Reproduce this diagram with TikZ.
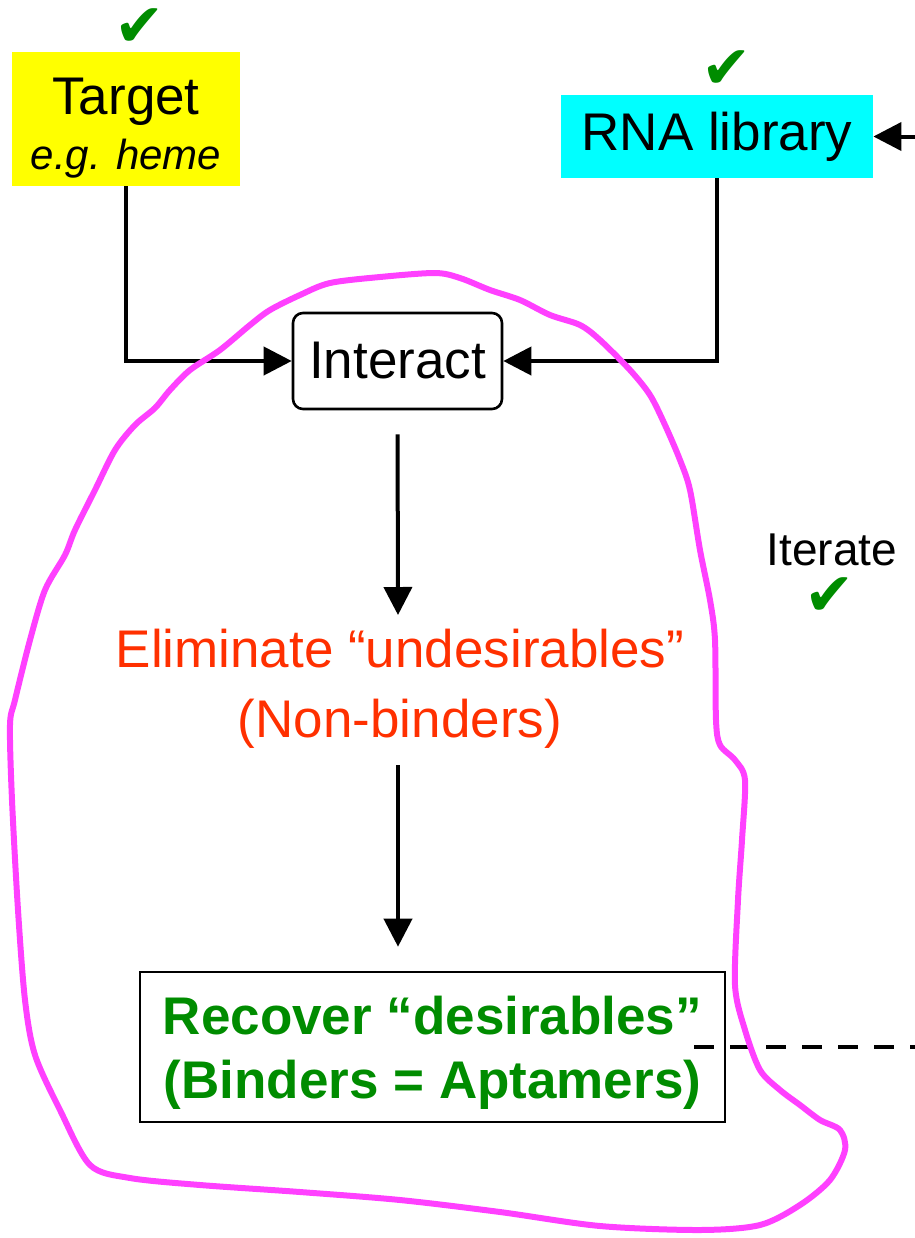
\documentclass[tikz,border=0pt]{standalone}
\usepackage{fontspec}
\setmainfont{Liberation Sans}
\newfontfamily\checkfont{DejaVu Sans}
\usetikzlibrary{arrows.meta}
\definecolor{tgtyellow}{RGB}{255,255,0}
\definecolor{libcyan}{RGB}{0,255,255}
\definecolor{okgreen}{RGB}{0,140,0}
\definecolor{badred}{RGB}{255,48,0}
\definecolor{loopmag}{RGB}{255,64,255}
\begin{document}
\begin{tikzpicture}[x=0.5pt,y=-0.5pt,
  big/.style={font=\fontsize{26.5}{35}\selectfont,align=center},
  arr/.style={line width=2pt,-{Triangle[length=14pt,width=14pt]}},
  chk/.style={font=\fontsize{30}{30}\checkfont,text=okgreen,inner sep=0pt}]
\useasboundingbox (0,0) rectangle (915,1238);
\node[big,fill=tgtyellow,minimum width=114pt,minimum height=67pt,inner sep=0pt] (target) at (126,119)
  {\rule{0pt}{27pt}Target\\[-7.5pt]{\fontsize{21}{24}\selectfont\itshape e.g. heme}};
\node[big,fill=libcyan,minimum width=156pt,minimum height=41.5pt,inner sep=0pt] (lib) at (717,136.5) {RNA library};
\node[big,draw,line width=1.3pt,rounded corners=5pt,minimum width=104.5pt,minimum height=48pt,inner sep=0pt] (interact) at (397.5,361) {Interact};
\node[big,text=badred] (elim) at (400,689) {Eliminate “undesirables”\\(Non-binders)};
\node[big,draw,line width=1.3pt,text=okgreen,font=\fontsize{26.5}{32}\bfseries,minimum width=292.5pt,minimum height=75pt,inner sep=0pt] (rec) at (432.5,1047)
  {\rule{0pt}{25pt}Recover “desirables”\\(Binders = Aptamers)};
\node[font=\fontsize{23}{26}\selectfont] (iter) at (832,550) {Iterate};
\node[chk] (chkt) at (140,28) {✔};
\node[chk] (chkl) at (727,70) {✔};
\node[chk] (chki) at (830,597) {✔};
\coordinate (libin) at (915,136.5);
\coordinate (dashend) at (915,1047);
\draw[arr] (target.south) |- (interact.west);
\draw[arr] (lib.south) |- (interact.east);
\draw[arr] (libin) -- (lib.east);
\draw[arr,shorten <=12pt] (interact.south) -- (398,615);
\draw[arr] (398,765) -- ([yshift=12pt]rec.north -| 398,0);
\draw[line width=2pt,dash pattern=on 10pt off 8pt] ([xshift=-16pt]rec.east) -- (dashend);
\draw[loopmag,line width=3pt] plot[smooth cycle,tension=0.5] coordinates {
  (435,273) (380,277) (330,283) (300,295) (270,310) (250,325) (220,350) (190,370)
  (170,390) (155,408) (135,425) (115,450) (95,490) (75,530) (65,555) (45,590)
  (30,640) (15,700) (10,725) (12,800) (18,910) (25,1000) (35,1055) (60,1110)
  (90,1165) (130,1178) (200,1185) (300,1192) (400,1200) (500,1212) (600,1226)
  (700,1230) (760,1225) (800,1205) (830,1180) (845,1150) (840,1130) (820,1120)
  (800,1105) (780,1090) (760,1070) (745,1030) (735,985) (738,900) (742,840)
  (745,780) (735,760) (720,745) (716,720) (715,640) (710,600) (700,550) (690,490)
  (680,460) (665,425) (650,395) (630,370) (600,340) (580,325) (550,315) (520,300)
  (490,290) (460,278)};
\end{tikzpicture}
\end{document}
